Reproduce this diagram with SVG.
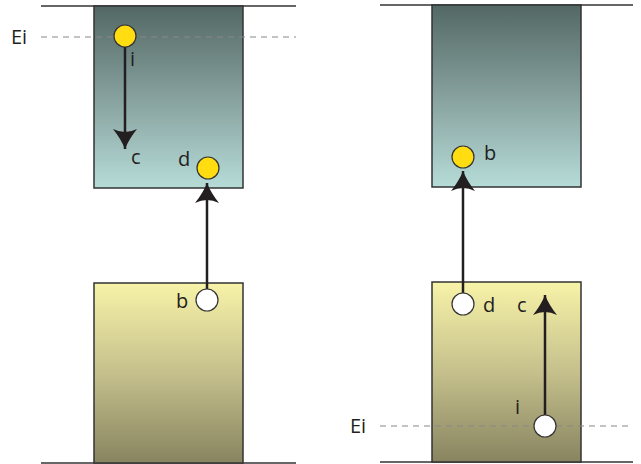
<svg xmlns="http://www.w3.org/2000/svg" width="641" height="464" viewBox="0 0 641 464">
<defs>
<linearGradient id="cb" x1="0" y1="0" x2="0" y2="1">
<stop offset="0" stop-color="#536864"/>
<stop offset="0.5" stop-color="#86a09d"/>
<stop offset="1" stop-color="#b6dcd8"/>
</linearGradient>
<linearGradient id="vb" x1="0" y1="0" x2="0" y2="1">
<stop offset="0" stop-color="#f7f3a8"/>
<stop offset="0.5" stop-color="#c5c08c"/>
<stop offset="1" stop-color="#888460"/>
</linearGradient>
<marker id="ah" viewBox="0 -12 20 24" refX="20" refY="0" markerWidth="20" markerHeight="24" markerUnits="userSpaceOnUse" orient="auto">
<path d="M20,0 Q10,-4 0,-12 Q6,0 0,12 Q10,4 20,0 Z" fill="#231f20"/>
</marker>
</defs>
<style>
.lvl{stroke:#333;stroke-width:1.5;fill:none}
.dash{stroke:#888;stroke-width:1.2;stroke-dasharray:6 5;fill:none}
.box{stroke:#333;stroke-width:1.5}
.e{fill:#ffdd11;stroke:#333;stroke-width:1.2}
.h{fill:#fff;stroke:#333;stroke-width:1.2}
.arr{stroke:#231f20;stroke-width:2.5;fill:none;marker-end:url(#ah)}
text{font-family:"Open Sans","Liberation Sans",sans-serif;font-size:20px;fill:#231f20}
</style>
<g id="levels">
<line class="lvl" x1="41" y1="6" x2="296" y2="6"/>
<line class="lvl" x1="41" y1="463" x2="296" y2="463"/>
<line class="lvl" x1="380" y1="5" x2="633" y2="5"/>
<line class="lvl" x1="380" y1="462" x2="633" y2="462"/>
</g>
<g id="band-left-top"><rect class="box" x="94" y="6" width="149" height="182" fill="url(#cb)"/></g>
<g id="band-left-bottom"><rect class="box" x="94" y="283" width="149" height="180" fill="url(#vb)"/></g>
<g id="band-right-top"><rect class="box" x="432" y="5" width="149" height="182" fill="url(#cb)"/></g>
<g id="band-right-bottom"><rect class="box" x="432" y="282" width="149" height="180" fill="url(#vb)"/></g>
<g id="ei-left"><line class="dash" x1="41" y1="37" x2="296" y2="37"/><text x="11" y="44">Ei</text></g>
<g id="ei-right"><line class="dash" x1="380" y1="426" x2="633" y2="426"/><text x="350" y="433">Ei</text></g>
<g id="connectors">
<line class="arr" x1="125" y1="47" x2="125" y2="149"/>
<line class="arr" x1="207" y1="289" x2="207" y2="183"/>
<line class="arr" x1="463" y1="293" x2="463" y2="171"/>
<line class="arr" x1="545" y1="415" x2="545" y2="295"/>
</g>
<g id="left-i"><circle class="e" cx="125" cy="36" r="11"/><text x="130" y="66">i</text></g>
<g id="left-c"><text x="131" y="164">c</text></g>
<g id="left-d"><circle class="e" cx="208" cy="168" r="11"/><text x="178" y="166">d</text></g>
<g id="left-b"><circle class="h" cx="207" cy="300" r="11"/><text x="176" y="308">b</text></g>
<g id="right-b"><circle class="e" cx="463" cy="157" r="11"/><text x="484" y="160">b</text></g>
<g id="right-d"><circle class="h" cx="463" cy="304" r="11"/><text x="483" y="312">d</text></g>
<g id="right-c"><text x="517" y="312">c</text></g>
<g id="right-i"><circle class="h" cx="545" cy="426" r="11"/><text x="515" y="414">i</text></g>
</svg>
